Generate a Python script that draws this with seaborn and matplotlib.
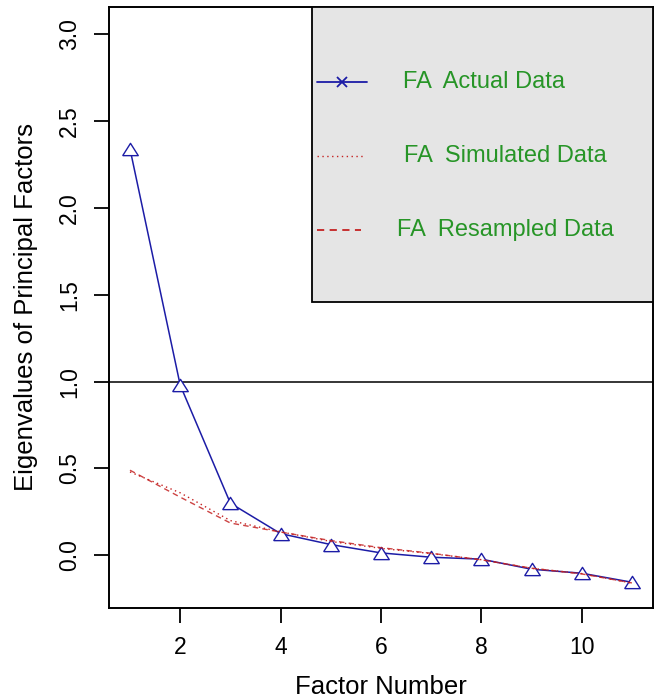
import matplotlib
matplotlib.use("Agg")
import matplotlib.pyplot as plt
import pandas as pd
import numpy as np
import seaborn as sns
from matplotlib.patches import Rectangle

sns.set_style("ticks")
plt.rcParams["font.family"] = ["Liberation Sans", "DejaVu Sans"]
plt.rcParams["text.color"] = "black"
plt.rcParams["axes.labelcolor"] = "black"

factors = list(range(1, 12))
actual = [2.34, 0.98, 0.30, 0.125, 0.062, 0.014, -0.011, -0.022, -0.08, -0.103, -0.155]
simulated = [0.48, 0.36, 0.20, 0.135, 0.08, 0.04, 0.01, -0.025, -0.075, -0.105, -0.16]
resampled = [0.49, 0.335, 0.186, 0.134, 0.085, 0.044, 0.012, -0.026, -0.074, -0.107, -0.159]

legend_labels = ["FA  Actual Data", "FA  Simulated Data", "FA  Resampled Data"]

df = pd.DataFrame({"factor": factors, "actual": actual,
                   "simulated": simulated, "resampled": resampled})

blue = "#1c1ca6"
red = "#c42222"
green = "#279527"

fig = plt.figure(figsize=(6.55, 6.98), dpi=100)
ax = fig.add_axes([0.1669, 0.129, 0.8301, 0.861])

# open triangle like R pch=2
tri = [(-1, -0.79), (1, -0.79), (0, 0.79), (-1, -0.79)]

sns.lineplot(data=df, x="factor", y="actual", ax=ax, color=blue, lw=1.1,
             marker=tri, markersize=11.2, markerfacecolor="white",
             markeredgecolor=blue, markeredgewidth=1.0, zorder=3)
sns.lineplot(data=df, x="factor", y="simulated", ax=ax, color=red, lw=1.0,
             linestyle=(0, (1, 2.5)), zorder=4)
sns.lineplot(data=df, x="factor", y="resampled", ax=ax, color=red, lw=1.0,
             linestyle=(0, (4, 3)), zorder=4, alpha=0.85)

ax.axhline(1.0, color="black", lw=1.1, zorder=2)

ax.set_xlim(0.588, 11.42)
ax.set_ylim(-0.303, 3.157)
ax.set_xticks([2, 4, 6, 8, 10])
ax.set_yticks([0.0, 0.5, 1.0, 1.5, 2.0, 2.5, 3.0])
ax.set_yticklabels(["0.0", "0.5", "1.0", "1.5", "2.0", "2.5", "3.0"],
                   rotation=90, va="center")
ax.tick_params(axis="both", labelsize=16.5, length=10.5, width=1.3,
               pad=10, color="black", labelcolor="black")
for s in ax.spines.values():
    s.set_linewidth(1.4)
    s.set_color("black")

ax.set_xlabel("Factor Number", fontsize=18.5, labelpad=11, color="black")
ax.set_ylabel("Eigenvalues of Principal Factors", fontsize=18.5, labelpad=14,
              color="black")

# legend box drawn in the top right corner
ax.add_patch(Rectangle((0.372, 0.509), 0.628, 0.491, transform=ax.transAxes,
                       facecolor="#e5e5e5", edgecolor="black", lw=1.3, zorder=5))
hx0, hx1 = 0.382, 0.474
rows = [0.875, 0.752, 0.629]
ax.plot([hx0, hx1], [rows[0], rows[0]], transform=ax.transAxes, color=blue,
        lw=1.3, zorder=6)
ax.plot([(hx0 + hx1) / 2], [rows[0]], transform=ax.transAxes, color=blue,
        marker="x", ms=7, mew=1.3, zorder=6)
ax.plot([hx0, 0.466], [rows[1], rows[1]], transform=ax.transAxes, color=red,
        lw=1.0, linestyle=(0, (1, 2.5)), zorder=6)
ax.plot([hx0, 0.462], [rows[2], rows[2]], transform=ax.transAxes, color=red,
        lw=1.3, linestyle=(0, (4, 3)), zorder=6)
text_x = [0.540, 0.542, 0.530]
for lab, tx, ty in zip(legend_labels, text_x, rows):
    ax.text(tx, ty, lab, transform=ax.transAxes, color=green, fontsize=17,
            va="center", ha="left", zorder=6)

fig.savefig("out.png", dpi=100)
